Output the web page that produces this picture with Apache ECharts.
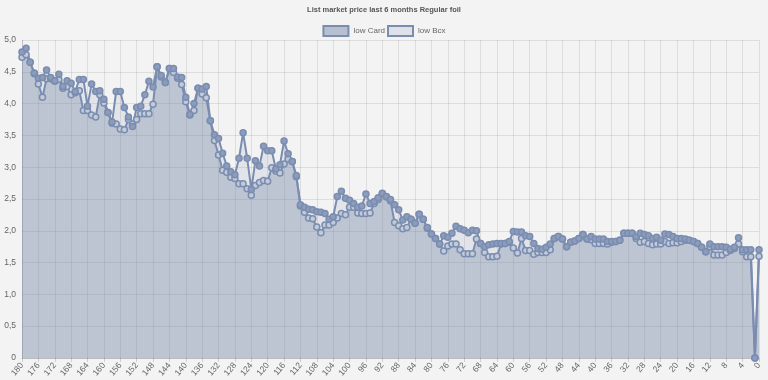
<!DOCTYPE html>
<html><head><meta charset="utf-8">
<script src="https://cdn.jsdelivr.net/npm/echarts@6/dist/echarts.min.js"></script>
<style>html,body{margin:0;padding:0;background:#f3f3f3;}#c{width:768px;height:380px;}</style>
</head><body><div id="c"></div>
<script>
// days before today, oldest first
const days = [];
for (let d = 180; d >= 0; d--) days.push(String(d));

const lowCard = [
4.73,4.77,4.65,4.47,4.31,4.10,4.39,4.39,4.35,4.38,
4.24,4.27,4.14,4.17,4.20,3.89,3.89,3.82,3.79,4.14,
4.01,3.86,3.69,3.68,3.60,3.59,3.75,3.68,3.75,3.84,
3.84,3.84,3.99,4.58,4.42,4.33,4.55,4.49,4.40,4.30,
4.03,3.82,3.89,4.24,4.15,4.09,3.73,3.42,3.19,2.95,
2.92,2.84,2.82,2.74,2.74,2.66,2.56,2.71,2.76,2.79,
2.78,2.99,2.94,2.91,3.05,3.13,3.09,2.85,2.39,2.29,
2.20,2.19,2.06,1.97,2.09,2.09,2.13,2.20,2.27,2.25,
2.37,2.37,2.28,2.27,2.27,2.28,2.43,2.49,2.58,2.53,
2.47,2.13,2.08,2.03,2.05,2.18,2.12,2.26,2.18,2.04,
1.95,1.88,1.79,1.68,1.76,1.79,1.79,1.70,1.64,1.64,
1.64,1.87,1.80,1.66,1.59,1.59,1.60,1.79,1.80,1.82,
1.73,1.65,1.88,1.69,1.69,1.63,1.66,1.66,1.66,1.70,
1.88,1.91,1.87,1.75,1.82,1.84,1.88,1.94,1.87,1.86,
1.80,1.80,1.80,1.79,1.82,1.83,1.85,1.96,1.96,1.96,
1.88,1.82,1.83,1.80,1.78,1.79,1.79,1.83,1.80,1.81,
1.81,1.83,1.85,1.85,1.83,1.80,1.74,1.67,1.75,1.62,
1.62,1.62,1.66,1.69,1.72,1.79,1.67,1.59,1.59,0,
1.60];

const lowBcx = [
4.81,4.87,4.65,4.48,4.40,4.41,4.53,4.41,4.36,4.46,
4.27,4.36,4.32,4.19,4.38,4.38,3.96,4.31,4.19,4.20,
4.07,3.86,3.71,4.19,4.19,3.94,3.79,3.64,3.94,3.96,
4.14,4.35,4.26,4.58,4.44,4.33,4.55,4.55,4.42,4.41,
4.10,3.83,4.00,4.24,4.23,4.27,3.73,3.51,3.45,3.22,
3.02,2.93,2.88,3.14,3.54,3.14,2.65,3.10,3.02,3.33,
3.26,3.26,2.97,3.04,3.41,3.21,3.09,2.87,2.41,2.37,
2.34,2.33,2.30,2.29,2.27,2.18,2.22,2.54,2.62,2.51,
2.48,2.43,2.37,2.39,2.58,2.43,2.46,2.52,2.59,2.54,
2.49,2.41,2.33,2.17,2.22,2.18,2.12,2.26,2.18,2.05,
1.95,1.88,1.79,1.92,1.90,1.96,2.07,2.03,2.01,1.97,
2.01,2.00,1.80,1.75,1.78,1.79,1.80,1.80,1.80,1.83,
1.99,1.98,1.98,1.92,1.91,1.80,1.72,1.71,1.74,1.79,
1.88,1.91,1.87,1.75,1.82,1.84,1.88,1.94,1.87,1.91,
1.87,1.87,1.87,1.83,1.83,1.83,1.85,1.96,1.96,1.96,
1.91,1.96,1.94,1.92,1.88,1.90,1.85,1.95,1.94,1.91,
1.88,1.88,1.87,1.85,1.83,1.80,1.74,1.67,1.79,1.75,
1.75,1.75,1.74,1.71,1.74,1.89,1.70,1.70,1.70,0,
1.70];

const titleText = 'List market price last 6 months Regular foil';
const seriesNames = ['low Card', 'low Bcx'];

const lineColor = '#7a8db0';
const cardFill = 'rgba(108,128,165,0.44)';
const bcxFill = 'rgba(108,128,165,0.18)';
const font = 'Arial, "Liberation Sans", sans-serif';

const chart = echarts.init(document.getElementById('c'), null, {renderer: 'canvas'});
chart.setOption({
  backgroundColor: '#f3f3f3',
  animation: false,
  title: {
    text: titleText, left: 'center', top: 1,
    textStyle: {fontSize: 7.5, fontWeight: 'bold', color: '#555', fontFamily: font}
  },
  legend: {
    top: 20, left: 'center', itemWidth: 25, itemHeight: 10, itemGap: 2, icon: 'rect',
    textStyle: {fontSize: 8, color: '#666', fontFamily: font},
    data: [
      {name: seriesNames[0], itemStyle: {color: 'rgba(110,130,165,0.45)', borderColor: lineColor, borderWidth: 2}},
      {name: seriesNames[1], itemStyle: {color: 'rgba(110,130,165,0.15)', borderColor: lineColor, borderWidth: 2}}
    ]
  },
  grid: {left: 22, right: 9, top: 40, bottom: 22, containLabel: false},
  xAxis: {
    type: 'category', data: days, boundaryGap: false,
    axisLine: {lineStyle: {color: 'rgba(0,0,0,0.15)'}},
    axisTick: {show: true, interval: 3, length: 4, lineStyle: {color: 'rgba(0,0,0,0.15)'}},
    axisLabel: {interval: 3, rotate: 50, fontSize: 8.5, color: '#666', margin: 6, fontFamily: font},
    splitLine: {show: true, interval: 3, lineStyle: {color: 'rgba(0,0,0,0.09)'}}
  },
  yAxis: {
    type: 'value', min: 0, max: 5, interval: 0.5,
    axisLine: {show: true, lineStyle: {color: 'rgba(0,0,0,0.12)'}},
    axisTick: {show: false},
    axisLabel: {fontSize: 8.5, color: '#666', margin: 6, fontFamily: font,
      formatter: v => v === 0 ? '0' : v.toFixed(1).replace('.', ',')},
    splitLine: {show: true, lineStyle: {color: 'rgba(0,0,0,0.09)'}}
  },
  series: [
    {
      name: seriesNames[0], type: 'line', data: lowCard,
      symbol: 'circle', symbolSize: 6, showAllSymbol: true,
      lineStyle: {color: lineColor, width: 2},
      itemStyle: {color: '#c3cbd9', borderColor: lineColor, borderWidth: 1.5},
      areaStyle: {color: cardFill, origin: 'start'}
    },
    {
      name: seriesNames[1], type: 'line', data: lowBcx,
      symbol: 'circle', symbolSize: 6, showAllSymbol: true,
      lineStyle: {color: lineColor, width: 2},
      itemStyle: {color: '#8c9dbc', borderColor: lineColor, borderWidth: 1.5},
      areaStyle: {color: bcxFill, origin: 'start'}
    }
  ]
});
</script>
</body></html>
